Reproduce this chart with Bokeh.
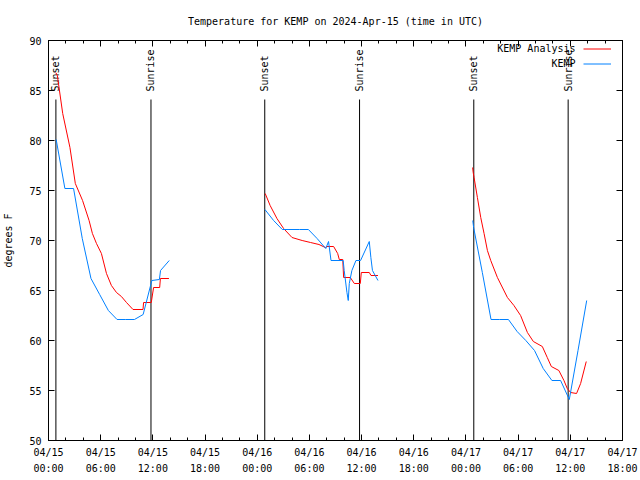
import math
import pandas as pd
from bokeh.plotting import figure
from bokeh.models import (FixedTicker, DatetimeTickFormatter, LinearAxis, DatetimeAxis,
                          Legend, LegendItem, Label, Range1d, CustomJSTickFormatter)
from bokeh.core.properties import value
from bokeh.embed import file_html
from bokeh.resources import INLINE

TITLE = "Temperature for KEMP on 2024-Apr-15 (time in UTC)"
Y_LABEL = "degrees F"
X_START = "2024-04-15 00:00"
X_END = "2024-04-17 18:00"
Y_TICKS = [50, 55, 60, 65, 70, 75, 80, 85, 90]
SERIES_NAMES = ["KEMP Analysis", "KEMP"]

# ---- KEMP Analysis (red), three segments ----
ana1_time = ["2024-04-15 00:50", "2024-04-15 01:01", "2024-04-15 01:38", "2024-04-15 02:28",
             "2024-04-15 03:05", "2024-04-15 03:55", "2024-04-15 04:40", "2024-04-15 05:03",
             "2024-04-15 05:31", "2024-04-15 06:05", "2024-04-15 06:40", "2024-04-15 07:14",
             "2024-04-15 07:49", "2024-04-15 08:23", "2024-04-15 08:58", "2024-04-15 09:43",
             "2024-04-15 10:52", "2024-04-15 10:56", "2024-04-15 11:49", "2024-04-15 12:05",
             "2024-04-15 12:47", "2024-04-15 12:52", "2024-04-15 13:51"]
ana1_temp = [86.8, 86.5, 82.7, 79.3, 75.7, 74.0, 72.0, 70.7, 69.7, 68.7, 66.7, 65.5,
             64.8, 64.4, 63.8, 63.1, 63.1, 63.8, 63.8, 65.3, 65.3, 66.2, 66.2]

ana2_time = ["2024-04-16 00:55", "2024-04-16 01:29", "2024-04-16 02:16", "2024-04-16 03:02",
             "2024-04-16 04:00", "2024-04-16 05:10", "2024-04-16 06:08", "2024-04-16 07:06",
             "2024-04-16 07:50", "2024-04-16 08:01", "2024-04-16 08:47", "2024-04-16 09:15",
             "2024-04-16 09:26", "2024-04-16 09:50", "2024-04-16 09:56", "2024-04-16 10:42",
             "2024-04-16 11:10", "2024-04-16 11:51", "2024-04-16 11:58", "2024-04-16 12:53",
             "2024-04-16 13:05", "2024-04-16 13:53"]
ana2_temp = [74.7, 73.5, 72.2, 71.2, 70.3, 70.0, 69.8, 69.6, 69.3, 69.4, 69.4, 68.7,
             68.1, 68.1, 66.3, 66.3, 65.7, 65.7, 66.8, 66.8, 66.5, 66.5]

ana3_time = ["2024-04-17 00:46", "2024-04-17 00:50", "2024-04-17 00:56", "2024-04-17 01:19",
             "2024-04-17 01:42", "2024-04-17 02:05", "2024-04-17 02:28", "2024-04-17 02:51",
             "2024-04-17 03:37", "2024-04-17 04:46", "2024-04-17 05:31", "2024-04-17 06:17",
             "2024-04-17 07:04", "2024-04-17 07:45", "2024-04-17 08:47", "2024-04-17 09:21",
             "2024-04-17 09:49", "2024-04-17 10:41", "2024-04-17 11:16", "2024-04-17 11:39",
             "2024-04-17 12:02", "2024-04-17 12:43", "2024-04-17 13:11", "2024-04-17 13:50"]
ana3_temp = [77.3, 76.8, 76.3, 74.3, 72.3, 70.7, 69.0, 68.0, 66.3, 64.3, 63.5, 62.5,
             60.8, 59.9, 59.4, 58.3, 57.4, 57.0, 56.0, 55.2, 54.8, 54.7, 55.7, 57.9]

# ---- KEMP observations (blue), three segments ----
obs1_time = ["2024-04-15 00:53", "2024-04-15 01:53", "2024-04-15 02:53", "2024-04-15 03:53",
             "2024-04-15 04:53", "2024-04-15 05:53", "2024-04-15 06:53", "2024-04-15 07:53",
             "2024-04-15 08:53", "2024-04-15 09:53", "2024-04-15 10:53", "2024-04-15 11:53",
             "2024-04-15 12:45", "2024-04-15 12:53", "2024-04-15 13:53"]
obs1_temp = [80.1, 75.2, 75.2, 70.2, 66.2, 64.6, 63.0, 62.1, 62.1, 62.1, 62.6, 66.0,
             66.1, 67.0, 68.0]

obs2_time = ["2024-04-16 00:53", "2024-04-16 01:53", "2024-04-16 02:53", "2024-04-16 03:53",
             "2024-04-16 04:53", "2024-04-16 05:53", "2024-04-16 06:53", "2024-04-16 07:53",
             "2024-04-16 08:12", "2024-04-16 08:29", "2024-04-16 09:53", "2024-04-16 10:00",
             "2024-04-16 10:19", "2024-04-16 10:28", "2024-04-16 10:35", "2024-04-16 10:53",
             "2024-04-16 11:21", "2024-04-16 11:53", "2024-04-16 12:53", "2024-04-16 13:04",
             "2024-04-16 13:15", "2024-04-16 13:53"]
obs2_temp = [73.1, 72.0, 71.1, 71.1, 71.1, 71.1, 70.2, 69.2, 69.9, 68.0, 68.0, 67.0,
             64.8, 64.0, 65.7, 67.0, 68.0, 68.0, 69.9, 68.3, 67.0, 66.0]

obs3_time = ["2024-04-17 00:47", "2024-04-17 00:53", "2024-04-17 01:53", "2024-04-17 02:53",
             "2024-04-17 03:53", "2024-04-17 04:53", "2024-04-17 05:53", "2024-04-17 06:53",
             "2024-04-17 07:53", "2024-04-17 08:53", "2024-04-17 09:53", "2024-04-17 10:53",
             "2024-04-17 11:53", "2024-04-17 12:53", "2024-04-17 13:53"]
obs3_temp = [72.0, 71.3, 66.8, 62.1, 62.1, 62.1, 60.9, 60.0, 59.0, 57.2, 56.0, 56.0,
             54.1, 59.0, 64.0]

# ---- Sunrise / sunset markers ----
sun_time = ["2024-04-15 00:51", "2024-04-15 11:47", "2024-04-16 00:52",
            "2024-04-16 11:46", "2024-04-17 00:54", "2024-04-17 11:45"]
sun_label = ["Sunset", "Sunrise", "Sunset", "Sunrise", "Sunset", "Sunrise"]

# ---------------------------------------------------------------------------
FONT = value("DejaVu Sans Mono")
FS = "10px"
RED = "#ff0000"
BLUE = "#0080ff"
MARK_TOP = 84.1      # top end of the sunrise/sunset lines (deg F)
MARK_TEXT_Y = 84.9   # start of the rotated marker text (deg F)
KEY_TEXT_X = pd.Timestamp("2024-04-17 12:36")   # right edge of the key texts
KEY_TEXT_Y = [89.2, 87.7]

def ts(lst):
    return pd.to_datetime(lst)

x0, x1 = pd.Timestamp(X_START), pd.Timestamp(X_END)
p = figure(width=640, height=480, x_axis_type="datetime",
           x_range=Range1d(x0, x1), y_range=Range1d(Y_TICKS[0], Y_TICKS[-1]),
           output_backend="svg", toolbar_location=None,
           min_border_left=47, min_border_right=18, min_border_top=40, min_border_bottom=40)
p.background_fill_color = "white"
p.border_fill_color = "white"
p.outline_line_color = "black"
p.outline_line_width = 1
p.xgrid.visible = False
p.ygrid.visible = False

p.title.text = TITLE
p.title.text_font = "DejaVu Sans Mono"
p.title.text_font_size = FS
p.title.text_font_style = "normal"
p.title.text_color = "black"
p.title.align = "center"
p.title.vertical_align = "middle"
p.title.standoff = 26

major_x = pd.date_range(x0, x1, freq="6h")
minor_x = pd.date_range(x0, x1, freq="2h")
to_ms = lambda idx: [t.value / 1e6 for t in idx]
xticker = FixedTicker(ticks=to_ms(major_x), minor_ticks=to_ms(minor_x))
yticker = FixedTicker(ticks=Y_TICKS, minor_ticks=[])
fmt = "%m/%d\n%H:%M"
xfmt = DatetimeTickFormatter(microseconds=fmt, milliseconds=fmt, seconds=fmt, minsec=fmt,
                             minutes=fmt, hourmin=fmt, hours=fmt, days=fmt, months=fmt, years=fmt)
blank = CustomJSTickFormatter(code="return ''")

def style_axis(ax, labels=True):
    ax.axis_line_color = "black"
    ax.major_tick_in = 6
    ax.major_tick_out = 0
    ax.minor_tick_in = 3
    ax.minor_tick_out = 0
    ax.major_tick_line_color = "black"
    ax.minor_tick_line_color = "black"
    ax.major_label_text_font = "DejaVu Sans Mono"
    ax.major_label_text_color = "black"
    ax.major_label_text_font_size = FS
    if not labels:
        ax.formatter = blank
        ax.major_label_standoff = 0

xa = p.xaxis[0]
xa.ticker = xticker
xa.formatter = xfmt
style_axis(xa)
xa.major_label_standoff = 6
xa.major_label_text_line_height = 1.5

ya = p.yaxis[0]
ya.ticker = yticker
style_axis(ya)
ya.major_label_standoff = 7
ya.axis_label = Y_LABEL
ya.axis_label_text_font = "DejaVu Sans Mono"
ya.axis_label_text_font_size = FS
ya.axis_label_text_font_style = "normal"
ya.axis_label_text_color = "black"
ya.axis_label_standoff = 12

top = DatetimeAxis(ticker=xticker)
style_axis(top, labels=False)
p.add_layout(top, "above")
right = LinearAxis(ticker=yticker)
style_axis(right, labels=False)
p.add_layout(right, "right")

# sunrise / sunset markers
st = ts(sun_time)
p.segment(x0=st, y0=Y_TICKS[0], x1=st, y1=MARK_TOP, line_color="black", line_width=1)
p.text(x=st, y=[MARK_TEXT_Y] * len(st), text=sun_label, angle=math.pi / 2,
       text_align="left", text_baseline="middle", text_font=FONT,
       text_font_size=FS, text_color="black")

red_r = None
for t, v in [(ana1_time, ana1_temp), (ana2_time, ana2_temp), (ana3_time, ana3_temp)]:
    r = p.line(ts(t), v, line_color=RED, line_width=1)
    red_r = red_r or r
blue_r = None
for t, v in [(obs1_time, obs1_temp), (obs2_time, obs2_temp), (obs3_time, obs3_temp)]:
    r = p.line(ts(t), v, line_color=BLUE, line_width=1)
    blue_r = blue_r or r

legend = Legend(items=[LegendItem(label=" ", renderers=[red_r]),
                       LegendItem(label=" ", renderers=[blue_r])],
                location=(535, 369), glyph_width=28, glyph_height=15,
                label_height=15, label_width=0, label_standoff=0,
                label_text_font_size="1px", padding=0, spacing=0, margin=0,
                border_line_color=None, background_fill_alpha=0)
p.add_layout(legend)

for name, ky in zip(SERIES_NAMES, KEY_TEXT_Y):
    p.add_layout(Label(x=KEY_TEXT_X, y=ky, text=name, text_align="right",
                       text_baseline="middle", text_font="DejaVu Sans Mono",
                       text_font_size=FS, text_color="black"))

open("out.html", "w").write(file_html(p, INLINE))
